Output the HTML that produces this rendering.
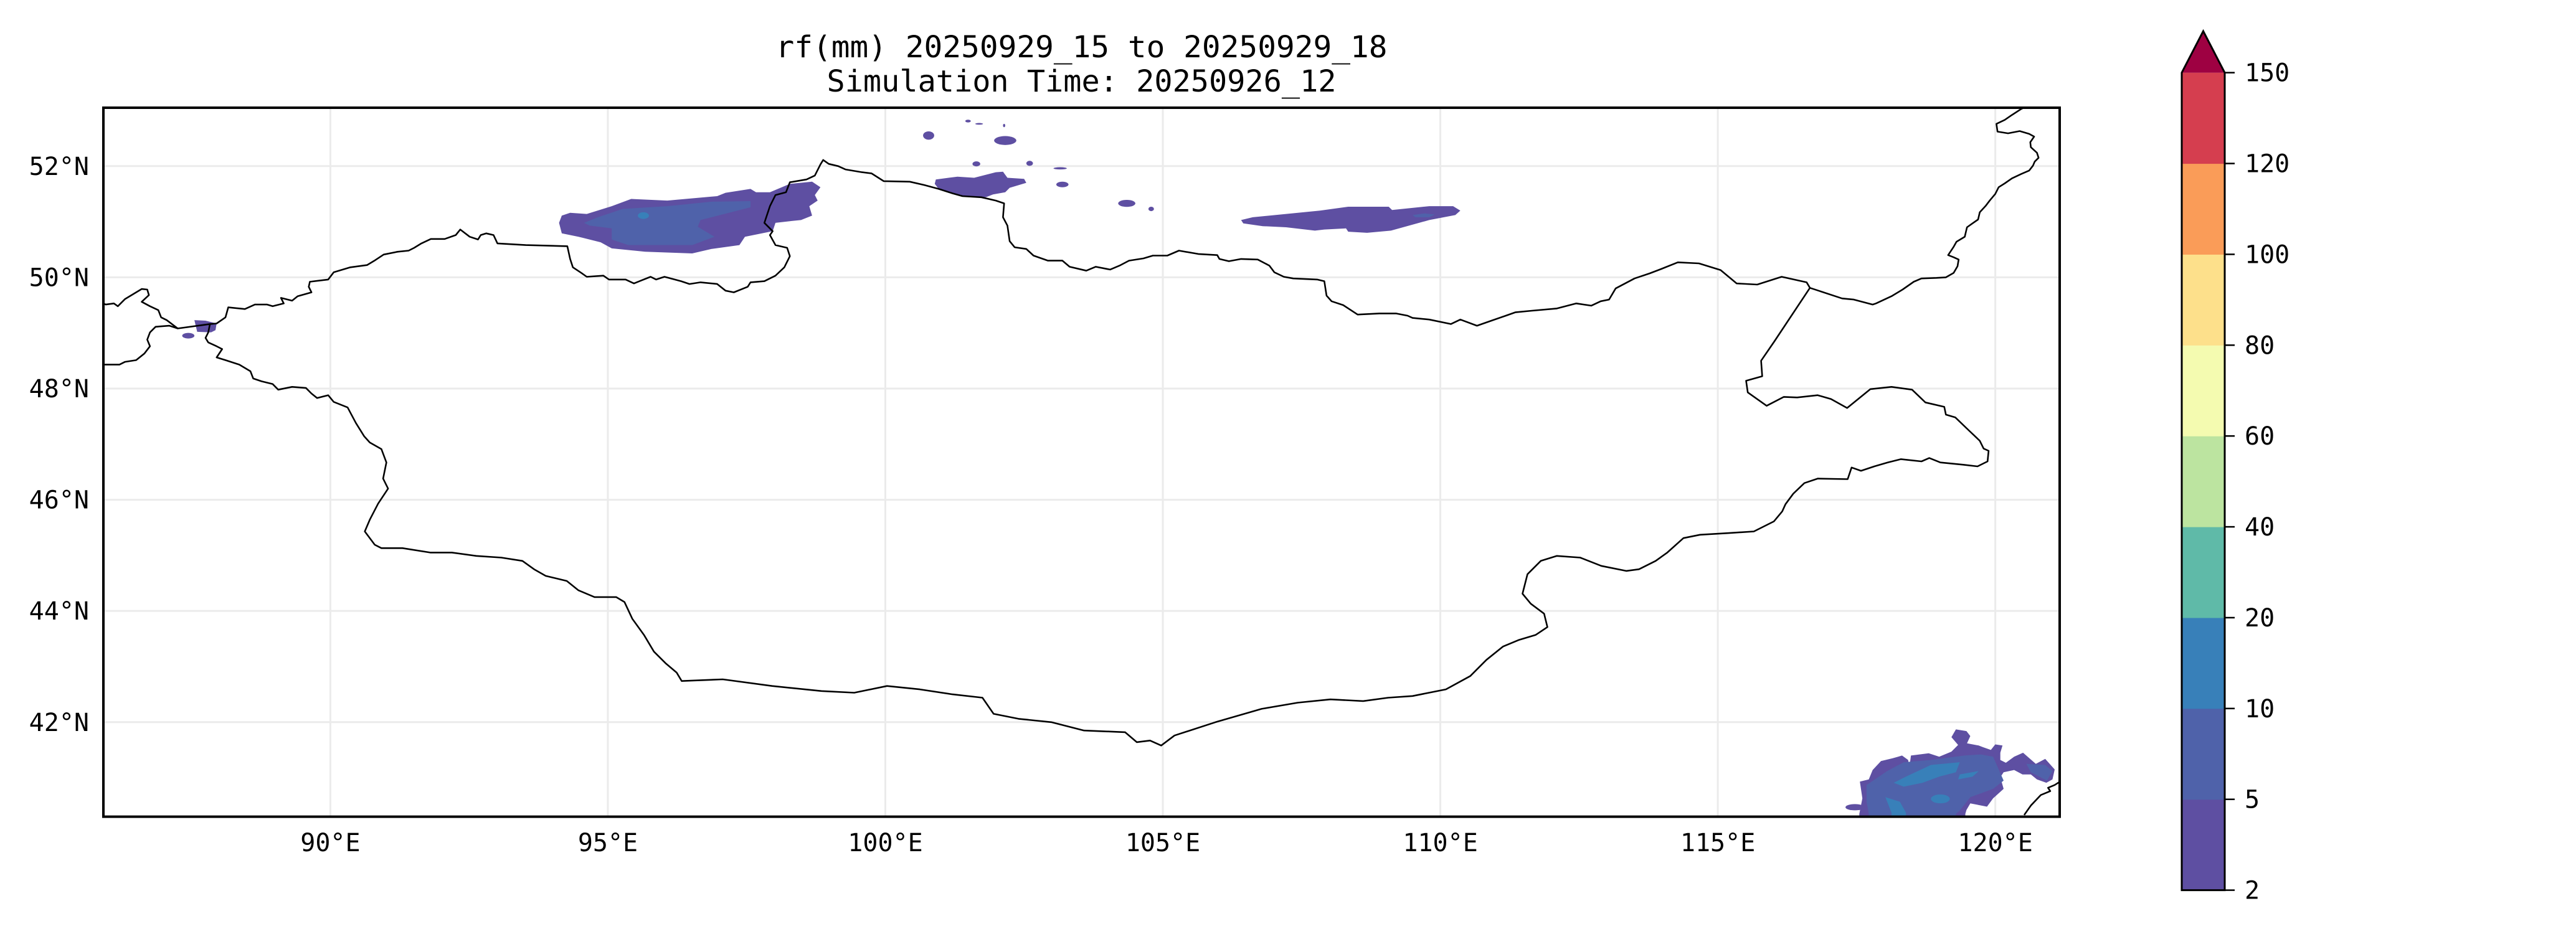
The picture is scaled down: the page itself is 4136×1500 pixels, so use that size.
<!DOCTYPE html>
<html><head><meta charset="utf-8"><title>rf(mm) map</title>
<style>
html,body{margin:0;padding:0;background:#fff;}
svg{display:block;}
text{font-family:"DejaVu Sans Mono","Liberation Mono",monospace;fill:#000;}
</style></head>
<body>
<svg id="chart" xmlns="http://www.w3.org/2000/svg" width="4136" height="1500" viewBox="0 0 4136 1500">
<rect x="0" y="0" width="4136" height="1500" fill="#fff"/>
<text x="1736.5" y="92" font-size="48" text-anchor="middle" textLength="982" lengthAdjust="spacingAndGlyphs">rf(mm) 20250929_15 to 20250929_18</text>
<text x="1736.5" y="147" font-size="48" text-anchor="middle" textLength="818" lengthAdjust="spacingAndGlyphs">Simulation Time: 20250926_12</text>
<defs><clipPath id="mapclip"><rect x="166" y="173" width="3141" height="1138.6"/></clipPath></defs>
<g id="grid"></g>
<g id="precip" clip-path="url(#mapclip)"></g>
<g id="borders" clip-path="url(#mapclip)"></g>
<rect x="166" y="173" width="3141" height="1138.6" fill="none" stroke="#000" stroke-width="4"/>
<g id="ticks"></g>
<g id="cbar"></g>
</svg>
<script>
// ---- map extent ----
const lonMin = 85.91, lonMax = 121.16, latMin = 40.30, latMax = 53.05;
const lonTicks = [90, 95, 100, 105, 110, 115, 120];
const lonTickLabels = ["90°E","95°E","100°E","105°E","110°E","115°E","120°E"];
const latTicks = [42, 44, 46, 48, 50, 52];
const latTickLabels = ["42°N","44°N","46°N","48°N","50°N","52°N"];
// ---- colorbar ----
const cbLevels = [2, 5, 10, 20, 40, 60, 80, 100, 120, 150];
const cbLabels = ["2","5","10","20","40","60","80","100","120","150"];
const cbColors = ["#5e4fa2","#4f62aa","#3880b9","#5fbaa8","#bce4a0","#f4fbb0","#fde08b","#fa9c58","#d53e4f"];
const cbOverColor = "#9e0142";

// ---- borders (lon/lat) ----
const mongoliaLon = [87.83,87.95,88.11,88.16,88.46,88.64,88.86,88.96,89.16,89.11,89.31,89.41,89.66,89.61,89.63,89.96,90.06,90.36,90.66,90.81,90.96,91.21,91.41,91.51,91.64,91.81,92.06,92.26,92.34,92.51,92.66,92.71,92.81,92.94,93.01,93.52,94.27,94.32,94.37,94.52,94.62,94.92,95.02,95.32,95.47,95.57,95.77,95.87,96.02,96.32,96.47,96.67,96.97,97.12,97.27,97.52,97.57,97.82,98.02,98.18,98.28,98.23,98.02,97.92,97.97,97.82,97.92,98.02,98.21,98.28,98.58,98.73,98.83,98.88,
98.98,99.15,99.28,99.58,99.75,99.97,100.44,100.70,100.96,101.21,101.39,101.73,101.99,102.14,102.12,102.20,102.24,102.33,102.54,102.67,102.93,103.19,103.32,103.62,103.79,104.05,104.22,104.39,104.65,104.82,105.08,105.29,105.64,105.98,106.02,106.19,106.41,106.71,106.92,107.01,107.18,107.35,107.78,107.91,107.95,108.04,108.25,108.51,108.90,109.20,109.41,109.50,109.80,110.19,110.36,110.66,110.92,111.18,111.35,111.65,112.10,
112.45,112.72,112.89,113.04,113.16,113.50,113.77,113.98,114.28,114.66,115.05,115.34,115.71,116.15,116.60,116.66,
116.02,115.78,115.80,115.51,115.54,115.88,116.19,116.43,116.80,117.04,117.33,117.75,118.13,118.50,118.74,119.08,119.11,119.28,119.52,119.72,119.79,119.88,119.86,119.68,119.42,119.01,118.81,118.67,118.30,118.06,117.82,117.58,117.41,117.34,116.80,116.56,116.36,116.22,
116.16,116.01,115.65,115.18,114.68,114.38,114.09,113.88,113.58,113.35,112.90,112.52,112.10,111.81,111.57,111.48,111.63,111.87,111.93,111.72,111.42,111.13,110.83,110.54,110.10,109.50,109.06,108.61,108.02,107.43,106.78,105.95,105.21,104.97,104.77,104.53,104.32,103.58,102.99,102.40,101.95,101.75,101.21,100.62,100.03,99.44,98.85,97.96,97.07,96.33,96.24,96.04,95.83,95.65,95.44,95.30,95.15,94.76,94.47,94.26,93.88,93.67,93.46,93.08,92.63,92.19,91.80,91.30,90.92,90.80,90.62,90.71,90.86,91.04,90.95,91.01,90.92,90.71,
90.61,90.46,90.31,90.06,89.96,89.76,89.66,89.56,89.31,89.06,88.96,88.76,88.61,88.56,88.36,88.11,87.95,88.05,87.95,87.80,87.75,87.80,87.83];
const mongoliaLat = [49.16,49.17,49.28,49.46,49.43,49.51,49.51,49.48,49.53,49.63,49.58,49.66,49.73,49.83,49.92,49.96,50.09,50.18,50.22,50.31,50.41,50.46,50.48,50.53,50.61,50.69,50.69,50.76,50.86,50.73,50.68,50.76,50.79,50.76,50.61,50.58,50.56,50.33,50.18,50.08,50.01,50.03,49.96,49.96,49.89,49.93,50.01,49.96,50.01,49.93,49.88,49.91,49.88,49.76,49.73,49.83,49.91,49.93,50.03,50.18,50.38,50.53,50.58,50.76,50.83,50.98,51.28,51.48,51.53,51.71,51.76,51.83,52.03,52.11,
52.04,52.00,51.94,51.89,51.87,51.73,51.72,51.66,51.59,51.51,51.46,51.44,51.38,51.33,51.08,50.93,50.65,50.54,50.51,50.39,50.30,50.30,50.19,50.12,50.19,50.14,50.21,50.30,50.34,50.39,50.39,50.48,50.42,50.40,50.33,50.29,50.33,50.32,50.21,50.09,50.01,49.98,49.96,49.93,49.67,49.57,49.50,49.33,49.35,49.35,49.31,49.27,49.24,49.16,49.24,49.13,49.22,49.31,49.37,49.40,49.44,
49.53,49.49,49.57,49.60,49.80,49.98,50.07,50.15,50.27,50.25,50.13,49.89,49.87,50.01,49.91,49.81,
48.85,48.50,48.22,48.14,47.93,47.69,47.85,47.84,47.88,47.81,47.65,47.99,48.03,47.98,47.75,47.67,47.53,47.48,47.25,47.06,46.92,46.88,46.69,46.60,46.63,46.67,46.75,46.69,46.73,46.67,46.60,46.52,46.58,46.37,46.38,46.30,46.11,45.92,
45.79,45.61,45.43,45.40,45.37,45.31,45.05,44.90,44.75,44.72,44.81,44.96,44.99,44.90,44.66,44.31,44.13,43.95,43.71,43.57,43.48,43.36,43.12,42.83,42.59,42.47,42.44,42.38,42.41,42.35,42.24,42.00,41.76,41.58,41.67,41.64,41.82,41.85,42.00,42.06,42.15,42.44,42.50,42.59,42.65,42.53,42.56,42.65,42.77,42.74,42.89,43.06,43.27,43.57,43.86,44.16,44.25,44.25,44.37,44.54,44.63,44.75,44.90,44.96,44.99,45.05,45.05,45.13,45.13,45.19,45.43,45.64,45.93,46.20,46.38,46.67,46.91,47.03,
47.14,47.38,47.66,47.76,47.88,47.83,47.91,48.01,48.03,47.98,48.08,48.13,48.18,48.31,48.43,48.51,48.56,48.71,48.76,48.83,48.91,49.01,49.16];
const ruKzLon = [87.83,87.25,87.05,86.95,86.90,86.75,86.60,86.73,86.70,86.60,86.50,86.30,86.17,86.10,85.95,85.85];
const ruKzLat = [49.16,49.08,49.23,49.28,49.41,49.48,49.56,49.68,49.78,49.79,49.73,49.61,49.48,49.53,49.51,49.56];
const cnKzLon = [87.25,87.10,86.85,86.75,86.70,86.75,86.65,86.50,86.30,86.20,85.85];
const cnKzLat = [49.08,49.13,49.11,49.01,48.88,48.76,48.63,48.51,48.48,48.43,48.43];
const ruCnLon = [116.66,117.24,117.45,117.79,117.85,118.13,118.33,118.53,118.67,118.94,119.11,119.25,119.32,119.34,119.25,119.15,119.25,119.30,119.45,119.49,119.59,119.69,119.72,119.83,119.90,120.00,120.06,120.17,120.30,120.47,120.61,120.68,120.71,120.78,120.75,120.64,120.63,120.70,120.61,120.44,120.23,120.04,120.02,120.17,120.30,120.47,120.58];
const ruCnLat = [49.81,49.62,49.60,49.51,49.53,49.66,49.78,49.92,49.98,49.99,50.00,50.08,50.20,50.32,50.36,50.40,50.55,50.64,50.73,50.90,50.97,51.04,51.17,51.29,51.38,51.50,51.62,51.69,51.78,51.86,51.92,52.01,52.08,52.15,52.24,52.34,52.43,52.53,52.58,52.63,52.59,52.62,52.76,52.83,52.92,53.03,53.08];
const coastLon = [120.52,120.64,120.82,120.99,120.95,121.07,121.18,121.30];
const coastLat = [40.33,40.50,40.69,40.76,40.82,40.87,40.94,41.00];

// ---- precipitation contour polygons (lon/lat), level index into cbColors ----
const blobNWLon = [94.17,94.32,94.62,95.07,95.42,96.07,96.97,97.12,97.57,97.67,97.92,98.28,98.68,98.83,98.73,98.78,98.63,98.68,98.48,98.28,98.02,97.97,97.47,97.37,96.87,96.52,95.67,95.07,94.87,94.47,94.17,94.12];
const blobNWLat = [51.11,51.16,51.14,51.28,51.41,51.38,51.46,51.52,51.59,51.53,51.53,51.68,51.72,51.62,51.48,51.38,51.28,51.11,51.03,51.01,50.98,50.83,50.73,50.58,50.51,50.43,50.46,50.52,50.63,50.73,50.79,50.98];
const blobNW5Lon = [94.57,94.82,95.27,96.07,96.87,97.57,97.57,96.67,96.62,96.92,96.52,95.37,95.07,95.07,94.67];
const blobNW5Lat = [50.98,51.08,51.23,51.28,51.36,51.37,51.26,51.03,50.91,50.73,50.58,50.58,50.68,50.88,50.93];
const blobBLon = [100.91,101.30,101.60,101.99,102.12,102.20,102.50,102.54,102.24,102.16,101.94,101.81,101.39,101.21,100.96,100.89];
const blobBLat = [51.76,51.81,51.79,51.89,51.90,51.79,51.77,51.70,51.61,51.53,51.49,51.44,51.47,51.51,51.59,51.68];
const blobCLon = [106.41,106.62,107.22,107.83,108.34,109.07,109.13,109.80,110.23,110.36,110.27,109.80,109.11,108.68,108.34,108.30,107.91,107.74,107.22,106.80,106.45];
const blobCLat = [51.03,51.08,51.14,51.20,51.27,51.27,51.21,51.28,51.28,51.20,51.12,51.03,50.84,50.80,50.82,50.88,50.86,50.84,50.90,50.92,50.97];
const blobC5Lon = [109.50,109.72,109.90,109.80,109.55];
const blobC5Lat = [51.12,51.15,51.13,51.08,51.08];
const blobWLon = [87.55,87.75,87.95,87.93,87.85,87.60];
const blobWLat = [49.23,49.22,49.17,49.05,49.01,49.02];
const blobSELon = [117.55,117.605,117.56,117.72,117.79,117.94,118.15,118.32,118.43,118.45,118.48,118.80,118.99,119.21,119.33,119.21,119.29,119.48,119.55,119.49,119.70,119.78,119.92,120.00,120.13,120.09,120.09,120.19,120.34,120.50,120.73,120.90,121.07,121.03,120.92,120.75,120.64,120.49,120.34,120.15,120.09,120.15,119.96,119.85,119.55,119.48,119.46,119.46,117.55];
const blobSELat = [40.35,40.63,40.93,40.97,41.14,41.30,41.35,41.40,41.32,41.17,41.40,41.44,41.38,41.47,41.59,41.73,41.87,41.84,41.75,41.62,41.58,41.55,41.50,41.60,41.58,41.45,41.32,41.27,41.38,41.45,41.25,41.34,41.15,40.97,40.91,40.97,41.06,41.06,41.14,41.10,41.01,40.80,40.63,40.48,40.54,40.42,40.35,40.20,40.20];
const blobSE5Lon = [117.68,118.05,118.35,118.84,119.44,119.74,119.96,120.15,119.96,119.55,119.36,119.29,119.29,117.72,117.72,117.68];
const blobSE5Lat = [40.87,41.12,41.28,41.32,41.40,41.42,41.38,40.95,40.80,40.65,40.41,40.35,40.20,40.20,40.35,40.57];
const blobSE5bLon = [120.56,120.90,121.03,120.93,120.64];
const blobSE5bLat = [41.25,41.23,41.12,40.95,41.10];
const blobSE10aLon = [118.17,118.39,118.84,119.36,119.29,118.99,118.69,118.35];
const blobSE10aLat = [40.91,41.02,41.23,41.28,41.10,41.02,40.91,40.84];
const blobSE10bLon = [119.36,119.70,119.59,119.33];
const blobSE10bLat = [41.06,41.12,41.02,40.97];
const blobSE10cLon = [118.02,118.28,118.39,118.39,118.13,118.13];
const blobSE10cLat = [40.65,40.57,40.37,40.20,40.20,40.37];
// small ellipse cells: center lon, center lat, radius lon, radius lat, level
const cellLon = [95.64,100.78,102.16,101.64,102.60,103.19,104.35,104.79,103.15,101.49,101.69,102.14,87.44,117.47,119.01];
const cellLat = [51.11,52.55,52.46,52.04,52.05,51.67,51.33,51.23,51.96,52.81,52.76,52.73,48.95,40.47,40.62];
const cellRLon = [0.10,0.10,0.20,0.07,0.06,0.11,0.155,0.05,0.12,0.05,0.07,0.02,0.11,0.17,0.17];
const cellRLat = [0.06,0.075,0.08,0.045,0.045,0.05,0.063,0.04,0.02,0.025,0.015,0.03,0.05,0.056,0.08];
const cellLevel = [2,0,0,0,0,0,0,0,0,0,0,0,0,0,2];

// ---- axis functions ----
const X0 = 166, X1 = 3307, Y0 = 173, Y1 = 1311.6;
function xScale(lon){ return X0 + (lon - lonMin) / (lonMax - lonMin) * (X1 - X0); }
function yScale(lat){ return Y1 - (lat - latMin) / (latMax - latMin) * (Y1 - Y0); }
const NS = "http://www.w3.org/2000/svg";
function mk(tag, parent){ const e = document.createElementNS(NS, tag); parent.appendChild(e); return e; }
function pts(lons, lats){ return lons.map((v,i)=>xScale(v).toFixed(1)+","+yScale(lats[i]).toFixed(1)).join(" "); }

// grid
const grid = document.getElementById("grid");
latTicks.forEach(function(lat){
  const l = mk("line", grid);
  
  
  l.setAttribute("x1", X0); l.setAttribute("x2", X1);
  l.setAttribute("y1", yScale(lat)); l.setAttribute("y2", yScale(lat));
  l.setAttribute("stroke", "#ebebeb"); l.setAttribute("stroke-width", "3");
});
lonTicks.forEach(function(lon){
  const l = mk("line", grid);
  
  
  l.setAttribute("x1", xScale(lon)); l.setAttribute("x2", xScale(lon));
  l.setAttribute("y1", Y0); l.setAttribute("y2", Y1);
  l.setAttribute("stroke", "#ebebeb"); l.setAttribute("stroke-width", "3");
});

// precipitation
const pg = document.getElementById("precip");
function poly(lons, lats, level, name){
  const p = mk("polygon", pg);
  
  
  p.setAttribute("points", pts(lons, lats));
  p.setAttribute("fill", cbColors[level]);
}
poly(blobNWLon, blobNWLat, 0, "rain-area-northwest");
poly(blobBLon, blobBLat, 0, "rain-area-baikal-south");
poly(blobCLon, blobCLat, 0, "rain-area-north-central");
poly(blobWLon, blobWLat, 0, "rain-area-far-west");
poly(blobSELon, blobSELat, 0, "rain-area-southeast");
poly(blobNW5Lon, blobNW5Lat, 1, "rain-5-10-northwest");
poly(blobC5Lon, blobC5Lat, 1, "rain-5-10-north-central");
poly(blobSE5Lon, blobSE5Lat, 1, "rain-5-10-southeast");
poly(blobSE5bLon, blobSE5bLat, 1, "rain-5-10-southeast-east");
poly(blobSE10aLon, blobSE10aLat, 2, "rain-10-20-southeast-a");
poly(blobSE10bLon, blobSE10bLat, 2, "rain-10-20-southeast-b");
poly(blobSE10cLon, blobSE10cLat, 2, "rain-10-20-southeast-c");
cellLon.forEach(function(lon, i){
  const e = mk("ellipse", pg);
  
  
  e.setAttribute("cx", xScale(lon)); e.setAttribute("cy", yScale(cellLat[i]));
  e.setAttribute("rx", Math.abs(xScale(lon + cellRLon[i]) - xScale(lon)));
  e.setAttribute("ry", Math.abs(yScale(cellLat[i] + cellRLat[i]) - yScale(cellLat[i])));
  e.setAttribute("fill", cbColors[cellLevel[i]]);
});

// borders
const bg = document.getElementById("borders");
function line(lons, lats, name, closed){
  const p = mk(closed ? "polygon" : "polyline", bg);
  
  
  p.setAttribute("points", pts(lons, lats));
  p.setAttribute("fill", "none"); p.setAttribute("stroke", "#000");
  p.setAttribute("stroke-width", "2.6"); p.setAttribute("stroke-linejoin", "round");
}
line(mongoliaLon, mongoliaLat, "mongolia-border", true);
line(ruKzLon, ruKzLat, "russia-kazakhstan-border", false);
line(cnKzLon, cnKzLat, "china-kazakhstan-border", false);
line(ruCnLon, ruCnLat, "russia-china-border", false);
line(coastLon, coastLat, "coastline", false);

// tick labels
const tg = document.getElementById("ticks");
lonTicks.forEach(function(lon, i){
  const t = mk("text", tg);
  
  
  t.setAttribute("x", xScale(lon)); t.setAttribute("y", 1367);
  t.setAttribute("font-size", "40"); t.setAttribute("text-anchor", "middle");
  t.textContent = lonTickLabels[i];
});
latTicks.forEach(function(lat, i){
  const t = mk("text", tg);
  
  
  t.setAttribute("x", 143); t.setAttribute("y", yScale(lat) + 14);
  t.setAttribute("font-size", "40"); t.setAttribute("text-anchor", "end");
  t.textContent = latTickLabels[i];
});

// colorbar
const cb = document.getElementById("cbar");
const CBX = 3503, CBW = 69, CBT = 116.7, CBB = 1429.6, CBTIP = 50;
const nSeg = cbLevels.length - 1;
function cbY(i){ return CBB - i / nSeg * (CBB - CBT); }
for (let i = 0; i < nSeg; i++){
  const r = mk("rect", cb);
  
  
  r.setAttribute("x", CBX); r.setAttribute("y", cbY(i+1));
  r.setAttribute("width", CBW); r.setAttribute("height", cbY(i) - cbY(i+1) + 0.5);
  r.setAttribute("fill", cbColors[i]);
}
const tri = mk("polygon", cb);


tri.setAttribute("points", CBX+","+CBT+" "+(CBX+CBW/2)+","+CBTIP+" "+(CBX+CBW)+","+CBT);
tri.setAttribute("fill", cbOverColor);
const outline = mk("polygon", cb);


outline.setAttribute("points", CBX+","+CBB+" "+CBX+","+CBT+" "+(CBX+CBW/2)+","+CBTIP+" "+(CBX+CBW)+","+CBT+" "+(CBX+CBW)+","+CBB);
outline.setAttribute("fill", "none"); outline.setAttribute("stroke", "#000"); outline.setAttribute("stroke-width", "3");
cbLevels.forEach(function(v, i){
  const tk = mk("line", cb);
  
  
  tk.setAttribute("x1", CBX+CBW); tk.setAttribute("x2", CBX+CBW+16);
  tk.setAttribute("y1", cbY(i)); tk.setAttribute("y2", cbY(i));
  tk.setAttribute("stroke", "#000"); tk.setAttribute("stroke-width", "2.5");
  const t = mk("text", cb);
  
  
  t.setAttribute("x", 3604); t.setAttribute("y", cbY(i) + 14);
  t.setAttribute("font-size", "40");
  t.textContent = cbLabels[i];
});
</script>
</body></html>
